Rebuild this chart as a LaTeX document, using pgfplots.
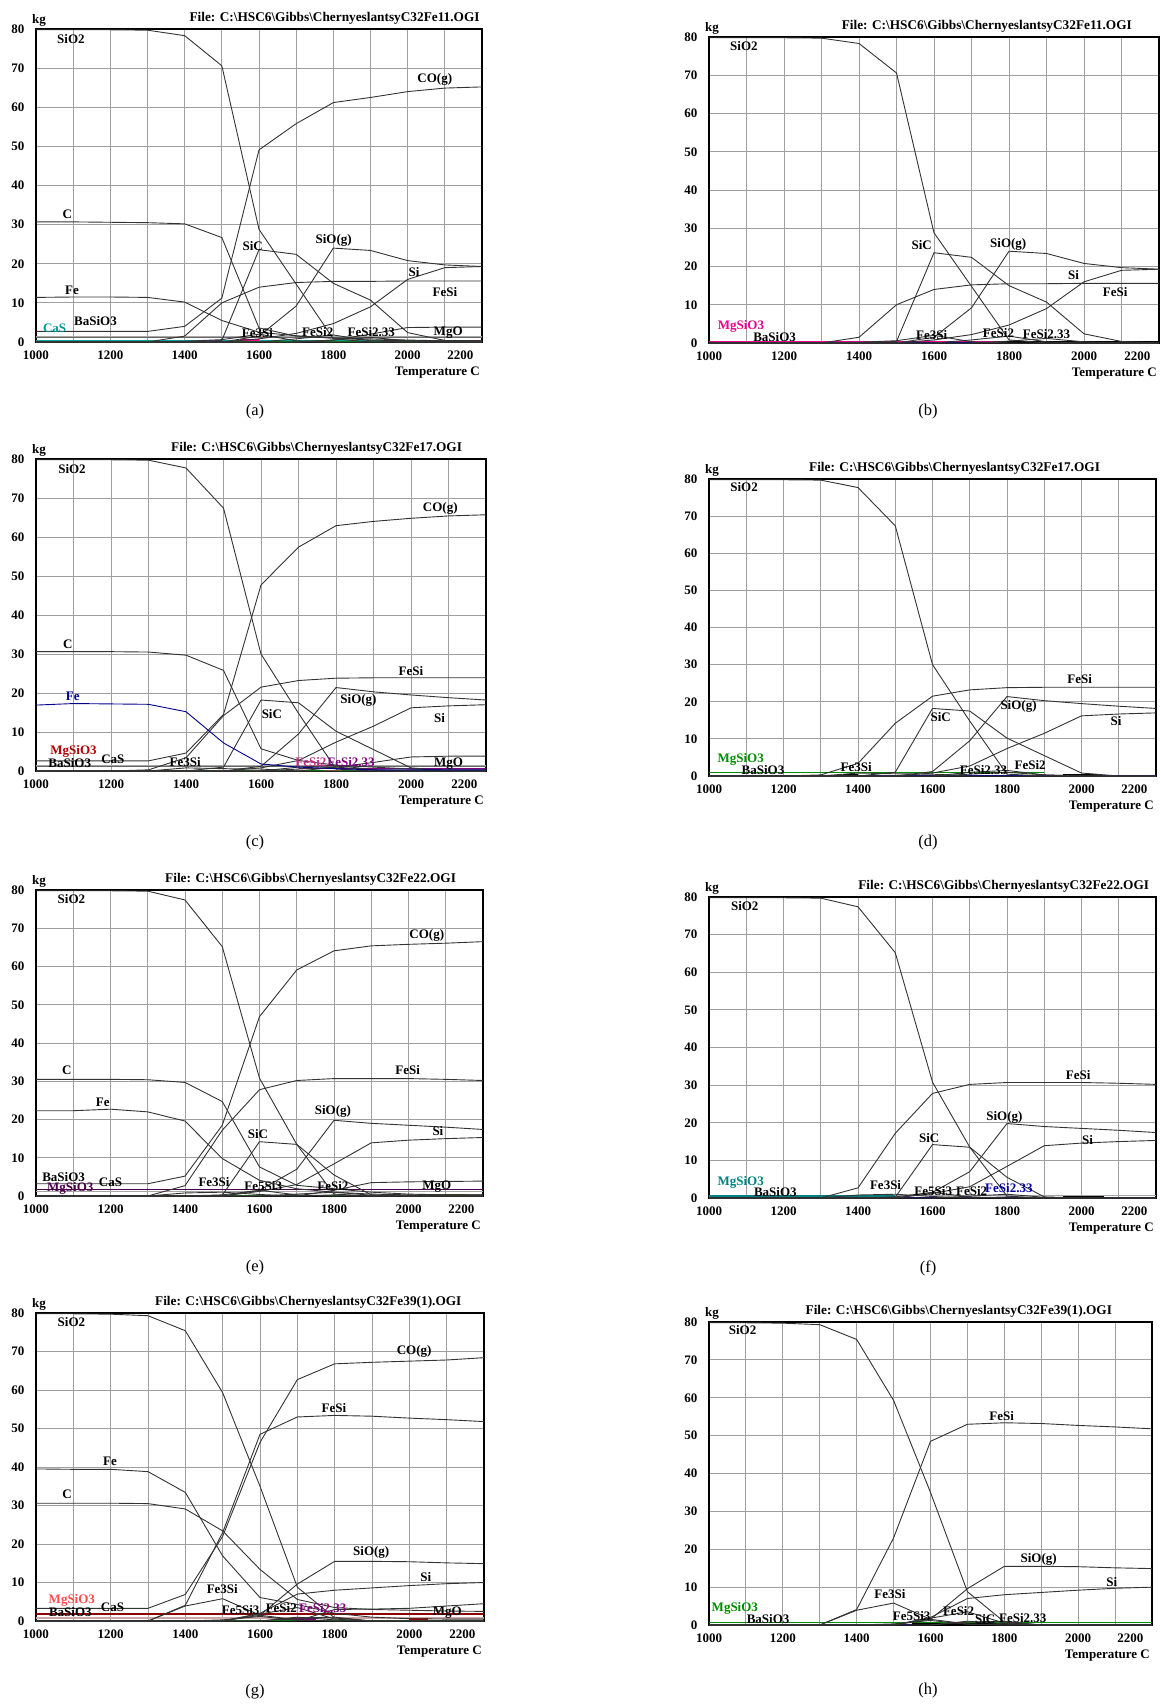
\documentclass[border=0pt]{standalone}
\usepackage{pgfplots}
\pgfplotsset{compat=1.18}
\usepackage{pgfplotstable}
\usepackage{fontspec}
\setmainfont{Liberation Serif}

% T SiO2 CO C Fe SiC SiO(g) Si FeSi Fe3Si FeSi2 FeSi2.33 Fe5Si3 X(high-T species)
\pgfplotstableread{
T SiOtwo CO C Fe SiC SiOg Si FeSi FeIIISi FeSiII FeSiIII FeVSi X
1000 79.8 2.7 30.7 11.4 0 0 0 0 0 0 0 0 0
1100 79.8 2.7 30.7 11.5 0 0 0 0 0 0 0 0 0
1200 79.8 2.7 30.6 11.5 0 0 0 0 0 0 0 0 0
1300 79.7 2.7 30.5 11.4 0 0 0 0 0 0 0 0 0
1400 78.3 4.0 30.2 10.2 0 0 0 1.5 0.2 0 0 0 0
1500 70.6 11.2 26.7 5.5 0.4 0 0 10.0 0.6 0 0 0 0
1600 28.8 49.1 3.6 2.5 23.6 1.5 0.8 14.0 2.0 0 0 0 0
1700 14.8 55.8 1.5 1.6 22.4 9.2 2.2 15.2 0.3 0.8 0 0 0
1800 0.8 61.2 1.0 1.0 15.0 24.0 4.7 15.5 0 1.8 0.5 0 0.5
1900 0 62.5 0.8 0.5 10.7 23.4 9.0 15.5 0 0.3 1.2 0 2.0
2000 0 64.0 0.5 0.3 2.4 20.8 16.0 15.6 0 0 0.3 0 3.7
2100 0 64.9 0.3 0.3 0.4 19.7 19.0 15.6 0 0 0 0 3.8
2200 0 65.2 0.3 0.3 0 19.3 19.3 15.6 0 0 0 0 3.8
}\tA
\pgfplotstableread{
T SiOtwo CO C Fe SiC SiOg Si FeSi FeIIISi FeSiII FeSiIII FeVSi X
1000 79.8 2.6 30.6 16.9 0 0 0 0 0 0 0 0 0
1100 79.8 2.6 30.6 17.3 0 0 0 0 0 0 0 0 0
1200 79.8 2.6 30.6 17.2 0 0 0 0 0 0 0 0 0
1300 79.7 2.6 30.5 17.1 0 0 0 0.3 0 0 0 0 0
1400 77.7 4.6 29.7 15.2 0 0 0 3.4 0.8 0 0 0 0
1500 67.4 14.5 25.8 7.2 1.0 0 0 14.2 0.6 0 0 0 0
1600 30.0 47.7 5.7 1.8 18.2 1.2 0.8 21.5 0.5 0 0 0 0
1700 14.8 57.4 2.7 1.0 17.5 9.5 2.7 23.2 0 1.0 0.5 0 0
1800 0.5 62.9 1.5 0.6 10.2 21.4 7.4 23.8 0 1.5 1.0 0 1.0
1900 0 64.0 1.0 0.3 5.5 20.3 11.5 23.9 0 0.3 0.3 0 2.2
2000 0 64.8 0.5 0.3 0.8 19.5 16.2 23.9 0 0 0 0 3.6
2100 0 65.4 0.3 0.3 0 18.8 16.7 23.9 0 0 0 0 3.8
2200 0 65.7 0.3 0.3 0 18.2 17.0 23.9 0 0 0 0 3.8
}\tB
\pgfplotstableread{
T SiOtwo CO C Fe SiC SiOg Si FeSi FeIIISi FeSiII FeSiIII FeVSi X
1000 79.8 3.2 30.5 22.3 0 0 0 0 0 0 0 0 0
1100 79.8 3.2 30.5 22.3 0 0 0 0 0 0 0 0 0
1200 79.8 3.2 30.5 22.7 0 0 0 0 0 0 0 0 0
1300 79.7 3.2 30.4 22.0 0 0 0 0 0 0 0 0 0
1400 77.4 5.2 29.7 19.6 0 0 0 2.7 0.8 0 0 0 0
1500 65.2 18.5 24.7 9.8 0.2 0 0 17.2 1.0 0 0 0.3 0
1600 30.8 46.9 7.6 4.1 14.2 1.5 1.2 27.8 0.4 0 0 1.5 0
1700 13.5 59.1 2.8 1.9 13.5 7.0 3.0 30.2 0 0.5 0 0.3 0
1800 0.5 64.1 1.9 1.0 5.5 19.8 8.4 30.7 0 1.0 0.3 0 1.5
1900 0 65.4 1.0 0.5 0.3 19.0 13.9 30.7 0 0.2 0 0 3.5
2000 0 65.8 0.5 0.3 0 18.5 14.6 30.7 0 0 0 0 3.7
2100 0 66.1 0.3 0.3 0 18.0 15.0 30.5 0 0 0 0 3.8
2200 0 66.5 0.3 0.3 0 17.4 15.3 30.2 0 0 0 0 3.9
}\tC
\pgfplotstableread{
T SiOtwo CO C Fe SiC SiOg Si FeSi FeIIISi FeSiII FeSiIII FeVSi X
1000 79.8 3.3 30.6 39.5 0 0 0 0 0 0 0 0 0
1100 79.8 3.3 30.6 39.4 0 0 0 0 0 0 0 0 0
1200 79.7 3.3 30.6 39.4 0 0 0 0 0 0 0 0 0
1300 79.3 3.3 30.5 38.8 0 0 0 0 0 0 0 0 0
1400 75.4 6.9 29.1 33.4 0 0 0 4.1 3.9 0 0 0 0
1500 59.3 22.0 23.4 16.9 0 0 0 23.0 5.8 0 0 0.3 0
1600 35.0 46.4 13.4 6.1 1.8 1.5 2.0 48.5 1.5 0 0 1.2 0
1700 8.8 62.7 5.6 4.3 3.5 9.6 7.0 53.0 0.3 1.0 0.8 0.2 0
1800 0.8 66.8 3.5 2.0 0.5 15.5 8.0 53.4 0 0.3 1.0 0 3.0
1900 0 67.2 3.0 1.0 0 15.5 8.6 53.2 0 0 0 0 3.1
2000 0 67.5 2.8 0.6 0 15.4 9.2 52.7 0 0 0 0 3.3
2100 0 67.8 2.6 0.5 0 15.1 9.7 52.3 0 0 0 0 3.9
2200 0 68.4 2.5 0.5 0 14.9 10.0 51.8 0 0 0 0 4.5
}\tD

\tikzset{
  ln/.style={black!80, line width=0.9pt},
  lab/.style={font=\bfseries\fontsize{13}{13.5}\selectfont, inner sep=0pt},
  titlef/.style={font=\bfseries\fontsize{13.3}{14}\selectfont, inner sep=0pt, anchor=south east, yshift=4pt},
  capt/.style={font=\fontsize{16.5}{18}\selectfont, inner sep=0pt},
}

\pgfplotsset{
  hsc/.style={
    scale only axis, anchor=south west,
    xmin=1000, xmax=2200, ymin=0, ymax=80,
    xtick={1000,1200,...,2000},
    minor xtick={1100,1300,...,2100},
    extra x ticks={2200},
    extra x tick style={grid=none, xticklabel style={anchor=north east, xshift=-5pt}},
    ytick={0,10,...,80},
    grid=both,
    major grid style={draw=gray!75, line width=1pt},
    minor grid style={draw=gray!75, line width=1pt},
    major tick length=0pt, minor tick length=0pt,
    axis line style={draw=black, line width=1.3pt},
    tick label style={font=\bfseries\fontsize{13}{13.5}\selectfont},
    xticklabel style={yshift=-5pt},
    yticklabel style={xshift=-8pt},
    /pgf/number format/assume math mode=true,
    /pgf/number format/1000 sep={},
    clip mode=individual,
  },
}

\newcommand{\coreplots}[1]{%
  \addplot[ln] table[x=T,y=SiOtwo]{#1};
  \addplot[ln] table[x=T,y=SiC]{#1};
  \addplot[ln] table[x=T,y=SiOg]{#1};
  \addplot[ln] table[x=T,y=Si]{#1};
  \addplot[ln] table[x=T,y=FeSi]{#1};
  \addplot[ln] table[x=T,y=FeIIISi]{#1};
  \addplot[ln] table[x=T,y=FeSiII]{#1};
  \addplot[ln] table[x=T,y=FeSiIII]{#1};
  \addplot[ln] table[x=T,y=FeVSi]{#1};
}
\newcommand{\gasplots}[2]{%
  \addplot[ln] table[x=T,y=X]{#1};
  \addplot[ln] table[x=T,y=CO]{#1};
  \addplot[ln] table[x=T,y=C]{#1};
  \addplot[#2, line width=0.9pt] table[x=T,y=Fe]{#1};
}
\newcommand{\decor}[2]{%
  \node[titlef] at (rel axis cs:#2,1) {File: C:\textbackslash HSC6\textbackslash Gibbs\textbackslash Chernyeslantsy#1.OGI};
  \node[lab, anchor=south west, xshift=-4pt, yshift=2pt] at (rel axis cs:0,1) {kg};
  \node[lab, anchor=north east, xshift=-2pt, yshift=-25pt] at (rel axis cs:1,0) {Temperature C};
}

\begin{document}
\begin{tikzpicture}
\path[use as bounding box] (0pt,0pt) rectangle (1160pt,-1704pt);

% ---------------- (a)
\begin{axis}[hsc, at={(36pt,-342pt)}, width=446pt, height=313pt]
  \addplot[gray!70, line width=1pt] coordinates {(1000,1.5) (2200,1.5)};
  \addplot[black!60, line width=1pt] coordinates {(1000,1.1) (2200,1.1)};
  \addplot[teal!70!cyan, line width=1.2pt] coordinates {(1000,0.4) (2200,0.4)};
  \addplot[green!60!black, line width=1pt] coordinates {(1000,0.05) (2200,0.05)};
  \addplot[blue!70, line width=1.5pt] coordinates {(1450,0.3) (1500,0.3)};
  \addplot[magenta, line width=1.8pt] coordinates {(1550,0.5) (1600,0.5)};
  \addplot[red!70!black, line width=1.8pt] coordinates {(2160,0.4) (2200,0.4)};
  \coreplots{\tA}
  \gasplots{\tA}{black!80}
  \decor{C32Fe11}{0.995}
  \node[lab] at (axis cs:1094,77.4) {SiO2};
  \node[lab] at (axis cs:2073,67) {CO(g)};
  \node[lab] at (axis cs:1084,32.7) {C};
  \node[lab] at (axis cs:1097,13.1) {Fe};
  \node[lab] at (axis cs:1160,5.3) {BaSiO3};
  \node[lab, text=teal!80!cyan] at (axis cs:1050,3.6) {CaS};
  \node[lab] at (axis cs:1583,24.4) {SiC};
  \node[lab] at (axis cs:1801,26) {SiO(g)};
  \node[lab] at (axis cs:2017,17.8) {Si};
  \node[lab] at (axis cs:2100,12.7) {FeSi};
  \node[lab] at (axis cs:1596,2.3) {Fe3Si};
  \node[lab] at (axis cs:1758,2.5) {FeSi2};
  \node[lab] at (axis cs:1902,2.5) {FeSi2.33};
  \node[lab] at (axis cs:2109,2.3) {MgO};
\end{axis}
\node[capt] at (255pt,-412pt) {(a)};

% ---------------- (b)
\begin{axis}[hsc, at={(709pt,-343pt)}, width=450pt, height=306pt]
  \addplot[blue!60!black, line width=1.3pt] coordinates {(1000,0.1) (2200,0.1)};
  \addplot[magenta, line width=1.3pt] coordinates {(1000,0.35) (1780,0.35)};
  \addplot[black, line width=2pt] coordinates {(1780,0.35) (2200,0.35)};
  \coreplots{\tA}
  \decor{C32Fe11}{0.94}
  \node[lab] at (axis cs:1093,77.6) {SiO2};
  \node[lab] at (axis cs:1567,25.5) {SiC};
  \node[lab] at (axis cs:1798,25.8) {SiO(g)};
  \node[lab] at (axis cs:1972,17.8) {Si};
  \node[lab] at (axis cs:2083,13.2) {FeSi};
  \node[lab, text=magenta] at (axis cs:1085,4.3) {MgSiO3};
  \node[lab] at (axis cs:1175,1.6) {BaSiO3};
  \node[lab] at (axis cs:1594,2.2) {Fe3Si};
  \node[lab] at (axis cs:1772,2.6) {FeSi2};
  \node[lab] at (axis cs:1900,2.3) {FeSi2.33};
\end{axis}
\node[capt] at (928pt,-412pt) {(b)};

% ---------------- (c)
\begin{axis}[hsc, at={(36pt,-771pt)}, width=450pt, height=312pt]
  \addplot[gray!70, line width=1pt] coordinates {(1000,1.5) (2200,1.5)};
  \addplot[black!60, line width=1pt] coordinates {(1000,1.1) (2200,1.1)};
  \addplot[violet, line width=1.3pt] coordinates {(1700,0.6) (2200,0.6)};
  \addplot[green!60!black, line width=1.5pt] coordinates {(1000,0.15) (2200,0.15)};
  \addplot[brown!80!black, line width=1.5pt, dash pattern=on 18pt off 18pt] coordinates {(1000,0.15) (2200,0.15)};
  \coreplots{\tB}
  \gasplots{\tB}{blue!55!black}
  \decor{C32Fe17}{0.947}
  \node[lab] at (axis cs:1096,77.3) {SiO2};
  \node[lab] at (axis cs:2078,67.2) {CO(g)};
  \node[lab] at (axis cs:1085,32.5) {C};
  \node[lab, text=blue!55!black] at (axis cs:1098,19.2) {Fe};
  \node[lab, text=red!70!black] at (axis cs:1100,5.0) {MgSiO3};
  \node[lab] at (axis cs:1090,2.0) {BaSiO3};
  \node[lab] at (axis cs:1205,3.0) {CaS};
  \node[lab] at (axis cs:1398,2.3) {Fe3Si};
  \node[lab] at (axis cs:2000,25.7) {FeSi};
  \node[lab] at (axis cs:1860,18) {SiO(g)};
  \node[lab] at (axis cs:1629,14.5) {SiC};
  \node[lab] at (axis cs:2076,13.7) {Si};
  \node[lab, text=magenta!80!black] at (axis cs:1733,2.3) {FeSi2};
  \node[lab, text=violet] at (axis cs:1840,2.3) {FeSi2.33};
  \node[lab] at (axis cs:2100,1.9) {MgO};
\end{axis}
\node[capt] at (255pt,-843pt) {(c)};

% ---------------- (d)
\begin{axis}[hsc, at={(709pt,-776pt)}, width=447pt, height=297pt]
  \addplot[blue!60!black, line width=1.3pt] coordinates {(1000,0.1) (2200,0.1)};
  \addplot[green!55!black, line width=1.3pt] coordinates {(1000,0.9) (1900,0.9)};
  \addplot[black, line width=2pt] coordinates {(1360,0.4) (1400,0.4)};
  \addplot[black, line width=2pt] coordinates {(1950,0.4) (2050,0.4)};
  \coreplots{\tB}
  \decor{C32Fe17}{0.875}
  \node[lab] at (axis cs:1094,77.8) {SiO2};
  \node[lab] at (axis cs:1995,26) {FeSi};
  \node[lab] at (axis cs:1831,18.7) {SiO(g)};
  \node[lab] at (axis cs:1622,15.8) {SiC};
  \node[lab] at (axis cs:2093,14.9) {Si};
  \node[lab, text=green!55!black] at (axis cs:1085,4.4) {MgSiO3};
  \node[lab] at (axis cs:1145,1.7) {BaSiO3};
  \node[lab] at (axis cs:1395,2.5) {Fe3Si};
  \node[lab] at (axis cs:1737,1.6) {FeSi2.33};
  \node[lab] at (axis cs:1862,3) {FeSi2};
\end{axis}
\node[capt] at (928pt,-843pt) {(d)};

% ---------------- (e)
\begin{axis}[hsc, at={(36pt,-1196pt)}, width=447pt, height=306pt]
  \addplot[violet!60!black, line width=1.3pt] coordinates {(1000,1.7) (2200,1.7)};
  \addplot[gray!70, line width=1pt] coordinates {(1000,1.2) (2200,1.2)};
  \addplot[green!60!black, line width=1.2pt] coordinates {(1000,0.05) (2200,0.05)};
  \addplot[olive, line width=1.2pt] coordinates {(2060,0.4) (2160,0.4)};
  \coreplots{\tC}
  \gasplots{\tC}{black!80}
  \decor{C32Fe22}{0.94}
  \node[lab] at (axis cs:1095,77.7) {SiO2};
  \node[lab] at (axis cs:2049,68.2) {CO(g)};
  \node[lab] at (axis cs:1083,33) {C};
  \node[lab] at (axis cs:1179,24.6) {Fe};
  \node[lab] at (axis cs:1998,32.9) {FeSi};
  \node[lab] at (axis cs:1797,22) {SiO(g)};
  \node[lab] at (axis cs:1596,16.3) {SiC};
  \node[lab] at (axis cs:2079,16.9) {Si};
  \node[lab] at (axis cs:1074,4.9) {BaSiO3};
  \node[lab, text=violet!60!black] at (axis cs:1092,2.0) {MgSiO3};
  \node[lab] at (axis cs:1200,3.7) {CaS};
  \node[lab] at (axis cs:1478,3.7) {Fe3Si};
  \node[lab] at (axis cs:1610,2.6) {Fe5Si3};
  \node[lab] at (axis cs:1797,2.5) {FeSi2};
  \node[lab] at (axis cs:2076,2.4) {MgO};
\end{axis}
\node[capt] at (255pt,-1268pt) {(e)};

% ---------------- (f)
\begin{axis}[hsc, at={(709pt,-1198pt)}, width=447pt, height=301pt]
  \addplot[blue!60!black, line width=1.3pt] coordinates {(1000,0.1) (2200,0.1)};
  \addplot[teal, line width=1.3pt] coordinates {(1000,0.5) (1500,0.5)};
  \addplot[gray!70, line width=1.2pt] coordinates {(1500,0.7) (2200,0.7)};
  \addplot[black, line width=2pt] coordinates {(1950,0.4) (2060,0.4)};
  \coreplots{\tC}
  \decor{C32Fe22}{0.985}
  \node[lab] at (axis cs:1096,77.6) {SiO2};
  \node[lab] at (axis cs:1991,32.7) {FeSi};
  \node[lab] at (axis cs:1793,21.5) {SiO(g)};
  \node[lab] at (axis cs:1591,15.9) {SiC};
  \node[lab] at (axis cs:2016,15.3) {Si};
  \node[lab, text=teal] at (axis cs:1085,4.2) {MgSiO3};
  \node[lab] at (axis cs:1178,1.6) {BaSiO3};
  \node[lab] at (axis cs:1474,3.4) {Fe3Si};
  \node[lab] at (axis cs:1602,1.9) {Fe5Si3};
  \node[lab] at (axis cs:1705,1.8) {FeSi2};
  \node[lab, text=blue!60!black] at (axis cs:1805,2.7) {FeSi2.33};
\end{axis}
\node[capt] at (928pt,-1268pt) {(f)};

% ---------------- (g)
\begin{axis}[hsc, at={(36pt,-1621pt)}, width=448pt, height=308pt]
  \addplot[red!55!black, line width=1.5pt] coordinates {(1000,1.8) (2200,1.8)};
  \addplot[pink!60!gray, line width=1.5pt] coordinates {(1000,0.8) (2200,0.8)};
  \addplot[green!60!black, line width=1.2pt] coordinates {(1000,0.05) (2200,0.05)};
  \addplot[violet, line width=2pt] coordinates {(1650,0.6) (1750,0.6)};
  \addplot[red!70!black, line width=2pt] coordinates {(2000,0.6) (2050,0.6)};
  \coreplots{\tD}
  \gasplots{\tD}{black!80}
  \decor{C32Fe39(1)}{0.95}
  \node[lab] at (axis cs:1095,77.7) {SiO2};
  \node[lab] at (axis cs:2013,70) {CO(g)};
  \node[lab] at (axis cs:1798,55.4) {FeSi};
  \node[lab] at (axis cs:1198,41.5) {Fe};
  \node[lab] at (axis cs:1083,33) {C};
  \node[lab] at (axis cs:1898,17.8) {SiO(g)};
  \node[lab] at (axis cs:2044,11.5) {Si};
  \node[lab] at (axis cs:1499,8.2) {Fe3Si};
  \node[lab] at (axis cs:1548,2.8) {Fe5Si3};
  \node[lab] at (axis cs:1657,3.3) {FeSi2};
  \node[lab, text=violet] at (axis cs:1768,3.3) {FeSi2.33};
  \node[lab] at (axis cs:2102,2.3) {MgO};
  \node[lab] at (axis cs:1205,3.6) {CaS};
  \node[lab, text=red!70] at (axis cs:1096,5.4) {MgSiO3};
  \node[lab] at (axis cs:1092,2.4) {BaSiO3};
\end{axis}
\node[capt] at (255pt,-1692pt) {(g)};

% ---------------- (h)
\begin{axis}[hsc, at={(709pt,-1625pt)}, width=443pt, height=303pt]
  \addplot[blue!60!black, line width=1.3pt] coordinates {(1000,0.1) (2200,0.1)};
  \addplot[green!55!black, line width=1.3pt] coordinates {(1000,0.6) (2200,0.6)};
  \addplot[black, line width=2pt] coordinates {(1550,0.4) (1850,0.4)};
  \coreplots{\tD}
  \decor{C32Fe39(1)}{0.91}
  \node[lab] at (axis cs:1091,77.8) {SiO2};
  \node[lab] at (axis cs:1793,55.3) {FeSi};
  \node[lab] at (axis cs:1893,17.4) {SiO(g)};
  \node[lab] at (axis cs:2091,11.4) {Si};
  \node[lab] at (axis cs:1490,8.1) {Fe3Si};
  \node[lab, text=green!55!black] at (axis cs:1070,4.3) {MgSiO3};
  \node[lab] at (axis cs:1160,1.6) {BaSiO3};
  \node[lab] at (axis cs:1549,2.4) {Fe5Si3};
  \node[lab] at (axis cs:1676,3.6) {FeSi2};
  \node[lab] at (axis cs:1748,1.7) {SiC};
  \node[lab] at (axis cs:1850,1.9) {FeSi2.33};
\end{axis}
\node[capt] at (928pt,-1691pt) {(h)};

\end{tikzpicture}
\end{document}
